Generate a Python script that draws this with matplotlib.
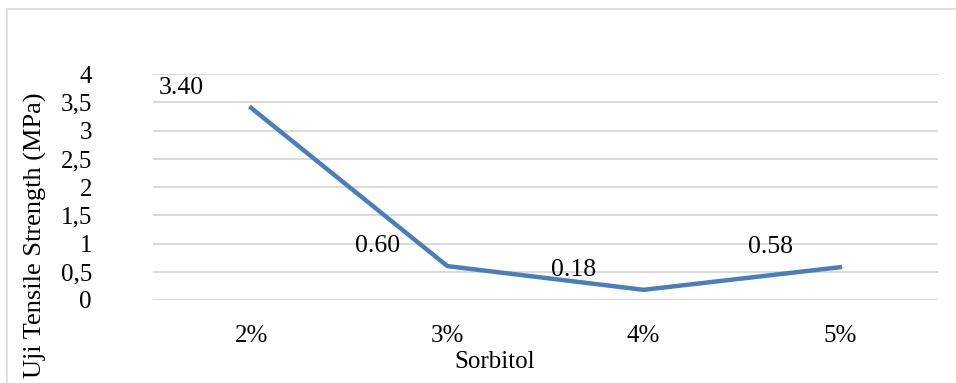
import matplotlib
matplotlib.use("Agg")
import matplotlib.pyplot as plt
from matplotlib.patches import Rectangle
from matplotlib.ticker import FuncFormatter

plt.rcParams['font.family'] = ['Liberation Serif', 'DejaVu Serif']

# ── data ──────────────────────────────────────────────
categories = ['2%', '3%', '4%', '5%']
tensile = [3.40, 0.60, 0.18, 0.58]
y_ticks = [0, 0.5, 1, 1.5, 2, 2.5, 3, 3.5, 4]

W, H = 956, 383
fig = plt.figure(figsize=(W / 100, H / 100), dpi=100)

# light grey chart border (top and left only visible in the crop)
fig.patches.append(Rectangle((7 / W, -0.01), (W + 20) / W, (H - 9) / H + 0.01,
                             transform=fig.transFigure, fill=False,
                             edgecolor='#D9D9D9', lw=1.2))

ax = fig.add_axes([153 / W, 83 / H, 785 / W, 226 / H])
x = list(range(len(categories)))
ax.plot(x, tensile, color='#4A7EBB', lw=3.2, solid_joinstyle='miter')

for xi, v in zip(x, tensile):
    ax.annotate(f'{v:.2f}', (xi, v), xytext=(-47, 20), textcoords='offset pixels',
                ha='right', va='center', fontsize=18.5, color='black')

ax.set_xlim(-0.5, len(categories) - 0.5)
ax.set_ylim(0, 4)
ax.set_yticks(y_ticks)
ax.yaxis.set_major_formatter(FuncFormatter(lambda v, p: f'{v:g}'.replace('.', ',')))
ax.set_xticks(x)
ax.set_xticklabels(categories)
ax.tick_params(axis='both', length=0, labelsize=18, colors='black')
ax.tick_params(axis='y', pad=44)
ax.tick_params(axis='x', pad=18)

ax.grid(axis='y', color='#D9D9D9', lw=1.4)
ax.set_axisbelow(True)
for s in ax.spines.values():
    s.set_visible(False)

fig.text(495 / W, 1 - 362 / H, 'Sorbitol', ha='center', va='center', fontsize=18)
fig.text(35 / W, 1 - 93 / H, 'Uji Tensile Strength (MPa)', rotation=90,
         ha='center', va='top', fontsize=19)

fig.savefig('out.png', dpi=100)
